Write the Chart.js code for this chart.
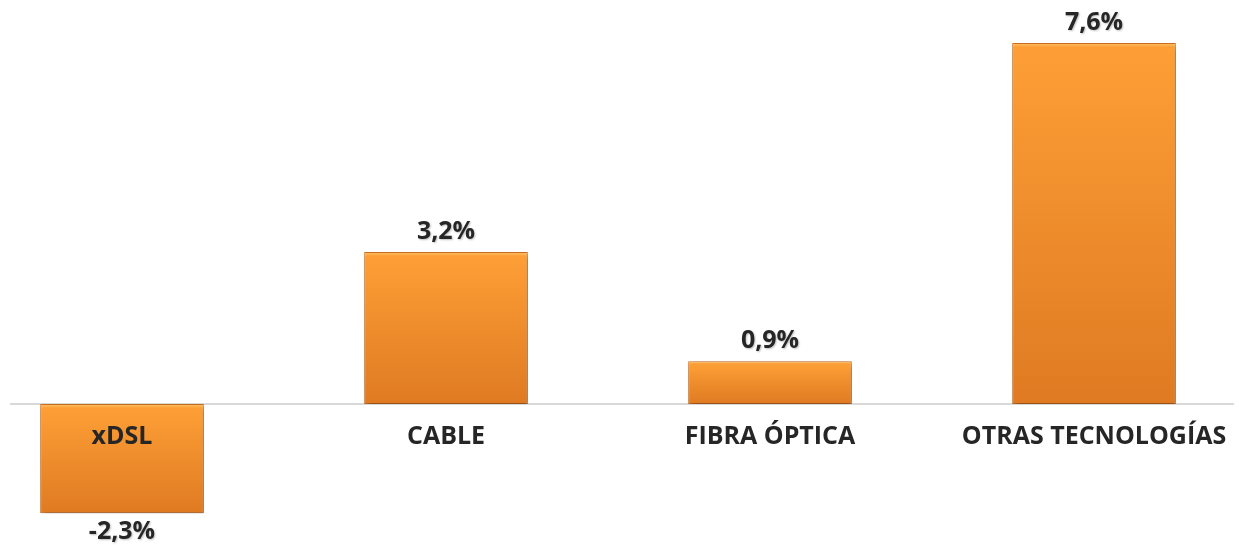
<!DOCTYPE html>
<html>
<head>
<meta charset="utf-8">
<script src="https://cdn.jsdelivr.net/npm/chart.js@4"></script>
<style>
    html, body { margin: 0; padding: 0; background: #ffffff; }
    #wrap { width: 1239px; height: 545px; }
</style>
</head>
<body>
<div id="wrap"><canvas id="chartCanvas"></canvas></div>
<script>
    // Données du graphique
    const categories = ['xDSL', 'CABLE', 'FIBRA ÓPTICA', 'OTRAS TECNOLOGÍAS'];
    const values = [-2.3, 3.2, 0.9, 7.6];

    const labelFont = { family: 'Open Sans', size: 25, weight: 'bold' };
    const textColor = '#262626';

    // Dégradé orange pour chaque barre
    function barGradient(context) {
        const chart = context.chart;
        const yScale = chart.scales.y;
        if (!yScale || context.raw === undefined) return '#F7922E';
        const a = yScale.getPixelForValue(context.raw);
        const b = yScale.getPixelForValue(0);
        if (!isFinite(a) || !isFinite(b) || a === b) return '#F7922E';
        const top = Math.min(a, b);
        const bottom = Math.max(a, b);
        const g = chart.ctx.createLinearGradient(0, top, 0, bottom);
        g.addColorStop(0, '#FFC56A');
        g.addColorStop(Math.min(0.06, 4 / (bottom - top)), '#FD9F36');
        g.addColorStop(1, '#DF7A22');
        return g;
    }

    // Ligne du zéro sur toute la largeur
    const zeroLine = {
        id: 'zeroLine',
        beforeDatasetsDraw(chart) {
            const ctx = chart.ctx;
            const y = chart.scales.y.getPixelForValue(0);
            ctx.save();
            ctx.strokeStyle = '#D9D9D9';
            ctx.lineWidth = 2;
            ctx.beginPath();
            ctx.moveTo(10, y);
            ctx.lineTo(chart.width - 5, y);
            ctx.stroke();
            ctx.restore();
        }
    };

    // Ombre des barres
    const barShadow = {
        id: 'barShadow',
        beforeDatasetDraw(chart) {
            const ctx = chart.ctx;
            ctx.save();
            ctx.shadowColor = 'rgba(0, 0, 0, 0.35)';
            ctx.shadowBlur = 6;
            ctx.shadowOffsetX = 2;
            ctx.shadowOffsetY = 3;
        },
        afterDatasetDraw(chart) {
            chart.ctx.restore();
        }
    };

    // Étiquettes de valeur
    const valueLabels = {
        id: 'valueLabels',
        afterDatasetsDraw(chart) {
            const ctx = chart.ctx;
            const meta = chart.getDatasetMeta(0);
            ctx.save();
            ctx.font = `${labelFont.weight} ${labelFont.size}px ${labelFont.family}`;
            ctx.fillStyle = textColor;
            ctx.textAlign = 'center';
            ctx.textBaseline = 'middle';
            ctx.shadowColor = 'rgba(0, 0, 0, 0.25)';
            ctx.shadowBlur = 2;
            ctx.shadowOffsetX = 1;
            ctx.shadowOffsetY = 1;
            meta.data.forEach((bar, i) => {
                const v = values[i];
                const text = v.toFixed(1).replace('.', ',') + '%';
                const y = v >= 0 ? bar.y - 20 : bar.y + 19;
                ctx.fillText(text, bar.x, y);
            });
            ctx.restore();
        }
    };

    const myChart = new Chart(document.getElementById('chartCanvas'), {
        type: 'bar',
        data: {
            labels: categories,
            datasets: [{
                data: values,
                backgroundColor: barGradient,
                borderColor: '#D07020',
                borderWidth: 1,
                borderSkipped: false,
                categoryPercentage: 0.505,
                barPercentage: 1,
                clip: false
            }]
        },
        options: {
            responsive: true,
            maintainAspectRatio: false,
            animation: false,
            layout: {
                padding: { left: 122, right: 145, top: 24, bottom: 8 }
            },
            plugins: {
                legend: { display: false },
                tooltip: { enabled: false }
            },
            scales: {
                x: {
                    position: { y: 0 },
                    offset: false,
                    grid: { display: false, drawTicks: false },
                    border: { display: false },
                    ticks: {
                        z: 1,
                        color: textColor,
                        font: labelFont,
                        padding: 18,
                        maxRotation: 0,
                        autoSkip: false
                    },
                    // Les étiquettes ne doivent pas pousser la zone du graphique
                    afterFit(scale) {
                        scale.paddingLeft = 0;
                        scale.paddingRight = 0;
                    }
                },
                y: {
                    display: false,
                    min: -2.8,
                    max: 8.0
                }
            }
        },
        plugins: [zeroLine, barShadow, valueLabels]
    });
</script>
</body>
</html>
